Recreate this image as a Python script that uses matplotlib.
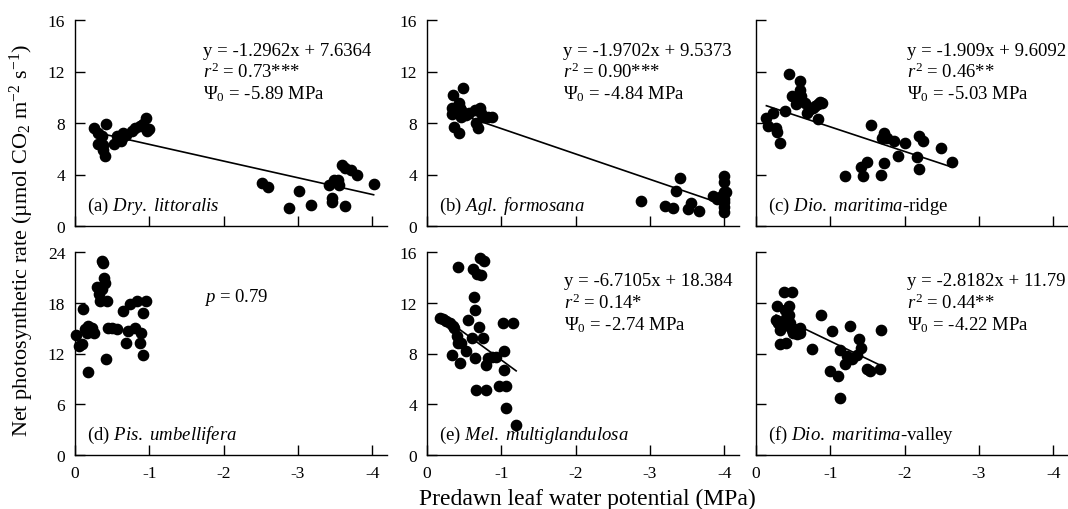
import numpy as np
import matplotlib
matplotlib.use("Agg")
import matplotlib.pyplot as plt

plt.rcParams['font.family'] = 'Liberation Serif'
plt.rcParams['mathtext.fontset'] = 'custom'
plt.rcParams['mathtext.rm'] = 'Liberation Serif'
plt.rcParams['mathtext.it'] = 'Liberation Serif:italic'
plt.rcParams['axes.unicode_minus'] = False

# (a) Dry. littoralis
a_x = [-0.26, -0.31, -0.36, -0.42, -0.31, -0.38, -0.38, -0.41, -0.52, -0.56, -0.63,
       -0.68, -0.62, -0.64, -0.77, -0.81, -0.87, -0.92, -0.95, -0.97, -0.99,
       -2.52, -2.60, -2.88, -3.02, -3.18, -3.42, -3.46, -3.46, -3.49, -3.54, -3.56,
       -3.60, -3.63, -3.64, -3.72, -3.80, -4.02]
a_y = [7.63, 7.24, 6.98, 7.94, 6.38, 6.33, 5.94, 5.42, 6.38, 6.98, 6.85,
       7.10, 6.59, 7.24, 7.37, 7.63, 7.76, 7.90, 8.35, 7.37, 7.50,
       3.33, 3.02, 1.43, 2.68, 1.64, 3.15, 2.21, 1.85, 3.59, 3.59, 3.20,
       4.76, 1.59, 4.50, 4.37, 3.93, 3.28]

# (b) Agl. formosana
b_x = [-0.35, -0.49, -0.33, -0.33, -0.43, -0.44, -0.46, -0.37, -0.43, -0.52, -0.57,
       -0.64, -0.71, -0.73, -0.66, -0.68, -0.75, -0.82, -0.88, -0.46,
       -2.88, -3.20, -3.31, -3.35, -3.40, -3.51, -3.55, -3.66, -3.85, -3.91,
       -4.00, -4.00, -4.00, -4.00, -4.00, -4.00, -4.00, -4.02, -3.95]
b_y = [10.15, 10.73, 9.20, 8.67, 9.56, 9.13, 8.49, 7.72, 7.22, 8.62, 8.74,
       9.00, 9.13, 8.74, 7.98, 7.60, 8.49, 8.44, 8.44, 9.00,
       1.91, 1.56, 1.41, 2.75, 3.70, 1.30, 1.81, 1.18, 2.32, 2.12,
       3.90, 3.39, 2.63, 2.12, 1.86, 1.48, 1.10, 2.63, 2.25]

# (c) Dio. maritima-ridge
c_x = [-0.14, -0.16, -0.23, -0.27, -0.28, -0.32, -0.39, -0.45, -0.48, -0.54, -0.59,
       -0.59, -0.61, -0.66, -0.68, -0.71, -0.77, -0.80, -0.83, -0.86, -0.89, -0.84,
       -1.20, -1.41, -1.44, -1.49, -1.55, -1.68, -1.70, -1.72, -1.72, -1.77, -1.86,
       -1.91, -2.01, -2.17, -2.19, -2.20, -2.25, -2.49, -2.64]
c_y = [8.39, 7.79, 8.78, 7.61, 7.27, 6.44, 8.96, 11.77, 10.13, 9.51, 11.25,
       10.60, 10.08, 9.56, 8.78, 9.04, 9.17, 9.30, 9.51, 9.61, 9.56, 8.31,
       3.85, 4.62, 3.85, 4.96, 7.82, 3.98, 6.84, 4.93, 7.22, 6.84, 6.57,
       5.46, 6.44, 5.35, 6.96, 4.42, 6.57, 6.05, 4.96]

# (d) Pis. umbellifera
d_x = [-0.02, -0.06, -0.09, -0.11, -0.14, -0.16, -0.18, -0.18, -0.23, -0.26, -0.29,
       -0.32, -0.34, -0.36, -0.36, -0.38, -0.39, -0.41, -0.43, -0.45, -0.42, -0.50,
       -0.56, -0.65, -0.68, -0.72, -0.74, -0.81, -0.83, -0.88, -0.89, -0.92, -0.92, -0.96]
d_y = [14.17, 12.83, 13.10, 17.24, 14.88, 14.48, 15.27, 9.76, 14.96, 14.40, 19.92,
       19.01, 18.22, 19.60, 22.94, 22.75, 20.98, 20.31, 18.22, 14.96, 11.33, 14.96,
       14.88, 17.04, 13.30, 14.68, 17.83, 14.96, 18.22, 13.30, 14.48, 11.81, 16.77, 18.22]

# (e) Mel. multiglandulosa
e_x = [-0.17, -0.22, -0.25, -0.31, -0.35, -0.37, -0.34, -0.40, -0.42, -0.42, -0.44,
       -0.46, -0.52, -0.55, -0.60, -0.62, -0.63, -0.64, -0.64, -0.66, -0.67, -0.70,
       -0.71, -0.73, -0.75, -0.77, -0.80, -0.80, -0.82, -0.88, -0.93, -0.97, -1.02,
       -1.04, -1.04, -1.06, -1.06, -1.16, -1.20]
e_y = [10.79, 10.73, 10.58, 10.39, 10.18, 10.00, 7.89, 9.34, 8.82, 14.79, 7.24,
       8.82, 8.21, 10.66, 9.21, 14.68, 12.42, 11.45, 7.63, 5.13, 14.26, 10.05,
       15.52, 14.16, 9.26, 15.26, 5.13, 7.11, 7.68, 7.76, 7.76, 5.40, 10.39,
       8.21, 6.71, 5.40, 3.69, 10.39, 2.37]

# (f) Dio. maritima-valley
f_x = [-0.28, -0.27, -0.30, -0.32, -0.32, -0.37, -0.38, -0.39, -0.41, -0.41, -0.44,
       -0.45, -0.46, -0.48, -0.48, -0.50, -0.55, -0.59, -0.59, -0.75, -0.87, -1.00,
       -1.02, -1.10, -1.13, -1.13, -1.20, -1.23, -1.26, -1.27, -1.29, -1.36, -1.38,
       -1.41, -1.49, -1.53, -1.67, -1.68]
f_y = [11.76, 10.67, 10.41, 9.88, 8.71, 10.14, 12.88, 11.45, 8.84, 10.80, 11.06,
       11.71, 10.41, 12.81, 9.88, 9.62, 9.57, 10.01, 9.62, 8.37, 11.06, 6.61,
       9.75, 6.22, 8.26, 4.53, 7.14, 7.79, 10.20, 7.66, 7.53, 7.92, 9.15,
       8.45, 6.75, 6.61, 6.75, 9.83]

xs = [a_x, b_x, c_x, d_x, e_x, f_x]
ys = [a_y, b_y, c_y, d_y, e_y, f_y]
tags = ['(a)', '(b)', '(c)', '(d)', '(e)', '(f)']
species = ['Dry.\\ littoralis', 'Agl.\\ formosana', 'Dio.\\ maritima',
           'Pis.\\ umbellifera', 'Mel.\\ multiglandulosa', 'Dio.\\ maritima']
suffix = ['', '', '-ridge', '', '', '-valley']
equations = ['y = -1.2962x + 7.6364', 'y = -1.9702x + 9.5373', 'y = -1.909x + 9.6092',
             None, 'y = -6.7105x + 18.384', 'y = -2.8182x + 11.79']
r2 = ['0.73***', '0.90***', '0.46**', None, '0.14*', '0.44**']
psi0 = ['-5.89', '-4.84', '-5.03', None, '-2.74', '-4.22']
p_value = 0.79
# drawn regression lines, y = fit_b + fit_k * |psi|
fit_k = [-1.2962, -1.9702, -1.909, None, -4.29, -2.8182]
fit_b = [7.6364, 9.5373, 9.6092, None, 11.78, 11.79]
y_max = [16, 16, 16, 24, 16, 16]
y_step = [4, 4, 4, 6, 4, 4]

W, H = 1068, 510
fig = plt.figure(figsize=(W / 100, H / 100), dpi=100)

col_left = [75, 427, 756]
ax_w = 312
rows = [(21, 227), (253, 456)]
label_y = [206, 435]
eq_x = [203, 563, 907, 204, 564, 907]
eq_top = [51, 51, 51, 297, 282, 282]
eq_gap = 21.5

for i in range(6):
    r, c = divmod(i, 3)
    top, bot = rows[r]
    h = bot - top
    ax = fig.add_axes([col_left[c] / W, 1 - bot / H, ax_w / W, h / H])
    ax.plot(xs[i], ys[i], 'o', color='black', ms=7.4, mec='black', clip_on=False, zorder=3)
    if fit_k[i] is not None:
        xl = np.array([max(xs[i]), min(xs[i])])
        ax.plot(xl, fit_b[i] + fit_k[i] * (-xl), color='black', lw=1.2)
    ax.set_xlim(0, -4.2)
    ax.set_ylim(0, y_max[i])
    ax.set_xticks([0, -1, -2, -3, -4])
    ax.set_yticks(np.arange(0, y_max[i] + 1, y_step[i]))
    for s in ['top', 'right']:
        ax.spines[s].set_visible(False)
    for s in ['left', 'bottom']:
        ax.spines[s].set_linewidth(1.0)
    ax.tick_params(direction='in', length=7, width=1.0, labelsize=12.5, pad=7)
    if r == 0:
        ax.tick_params(labelbottom=False)
    if c == 2:
        ax.tick_params(labelleft=False)

    ax.text(0.04, (bot - label_y[r]) / h,
            tags[i] + ' $\\mathit{' + species[i] + '}$' + suffix[i],
            transform=ax.transAxes, fontsize=13.5, va='center', ha='left')

    tx = (eq_x[i] - col_left[c]) / ax_w
    if equations[i] is not None:
        lines = [equations[i], '$r^2$ = ' + r2[i], '$\\Psi_0$ = ' + psi0[i] + ' MPa']
        for j, t in enumerate(lines):
            ty = (bot - (eq_top[i] + eq_gap * j)) / h
            ax.text(tx, ty, t, transform=ax.transAxes, fontsize=13.5, va='center', ha='left')
    else:
        ty = (bot - eq_top[i]) / h
        ax.text(tx, ty, '$p$ = %.2f' % p_value, transform=ax.transAxes,
                fontsize=13.5, va='center', ha='left')

fig.text(587 / W, 1 - 499 / H, 'Predawn leaf water potential (MPa)', fontsize=17,
         ha='center', va='center')
fig.text(22 / W, 1 - 240 / H,
         'Net photosynthetic rate (\u00b5mol CO$_2$ m$^{-2}$ s$^{-1}$)', fontsize=16,
         ha='center', va='center', rotation=90)

fig.savefig('out.png', dpi=100)
